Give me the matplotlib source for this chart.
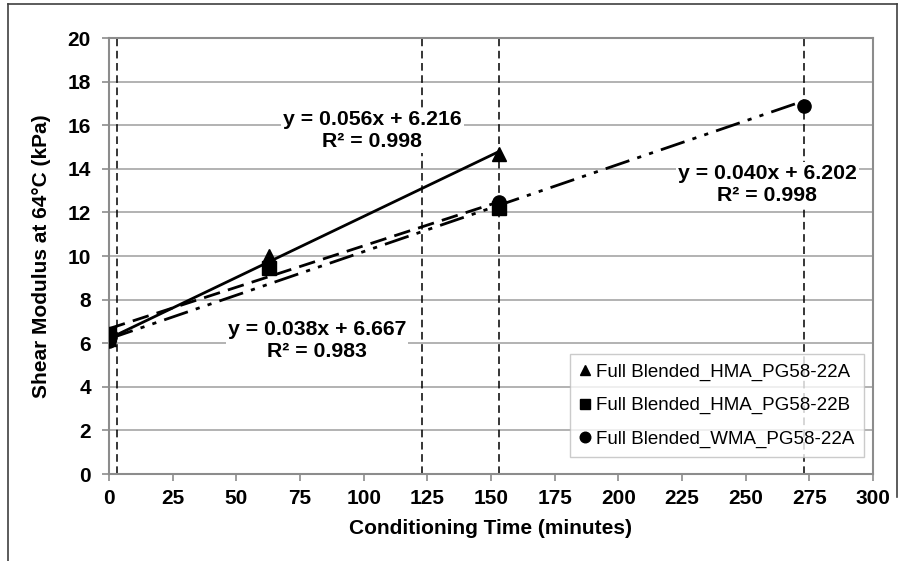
import numpy as np
import matplotlib
matplotlib.use('Agg')
import matplotlib.pyplot as plt
from matplotlib.lines import Line2D

# measured data
series_names = [
    'Full Blended_HMA_PG58-22A',
    'Full Blended_HMA_PG58-22B',
    'Full Blended_WMA_PG58-22A',
]
hma_a_time = [0, 63, 153]
hma_a_g = [6.2, 10.0, 14.7]
hma_b_time = [0, 63, 153]
hma_b_g = [6.4, 9.45, 12.2]
wma_a_time = [0, 153, 273]
wma_a_g = [6.1, 12.5, 16.9]

# trendline coefficients as printed on the chart
slopes = [0.056, 0.038, 0.040]
intercepts = [6.216, 6.667, 6.202]
r2_values = [0.998, 0.983, 0.998]
fit_ends = [153, 153, 273]

# dashed reference lines (minutes)
ref_times = [3, 123, 153, 273]

x_ticks = list(range(0, 301, 25))
y_ticks = list(range(0, 21, 2))

FONT = ['Liberation Sans', 'DejaVu Sans']
plt.rcParams['font.family'] = FONT

MARKERS = ['^', 's', 'o']
LINESTYLES = ['-', (0, (6, 3)), (0, (9, 3, 1.5, 3, 1.5, 3))]
# label anchor per trendline (data coords)
label_pos = [(103.4, 15.76), (81.7, 6.12), (258.5, 13.26)]

fig = plt.figure(figsize=(9.04, 5.61), dpi=100)
ax = fig.add_axes([109 / 904, 1 - 474 / 561, 764 / 904, 436 / 561])

# outer chart border
fig.add_artist(Line2D([8 / 904, 8 / 904], [0, 1 - 4 / 561], color='#404040', lw=1.2,
                      transform=fig.transFigure))
fig.add_artist(Line2D([8 / 904, 897 / 904], [1 - 4 / 561, 1 - 4 / 561], color='#404040', lw=1.2,
                      transform=fig.transFigure))
fig.add_artist(Line2D([897 / 904, 897 / 904], [1 - 4 / 561, 1 - 497 / 561], color='#404040', lw=1.2,
                      transform=fig.transFigure))

for y in y_ticks[1:]:
    ax.axhline(y, color='#a6a6a6', lw=1.2, zorder=0)

for t in ref_times:
    ax.axvline(t, color='black', lw=1.1, linestyle=(0, (5, 3)), zorder=1)

data = [(hma_a_time, hma_a_g), (hma_b_time, hma_b_g), (wma_a_time, wma_a_g)]
for i, (xs, ys) in enumerate(data):
    xl = np.array([0, fit_ends[i]])
    ax.plot(xl, slopes[i] * xl + intercepts[i], color='black', lw=2.0,
            linestyle=LINESTYLES[i], zorder=3)
    ax.plot(xs, ys, linestyle='none', marker=MARKERS[i], color='black',
            markersize=9.5, zorder=4, label=series_names[i])

for i, (px, py) in enumerate(label_pos):
    ax.text(px, py, f'y = {slopes[i]:.3f}x + {intercepts[i]:.3f}\nR² = {r2_values[i]:.3f}',
            ha='center', va='center', fontsize=15.3, fontweight='bold',
            linespacing=1.2, zorder=5,
            bbox=dict(boxstyle='square,pad=0.1', facecolor='white', edgecolor='none'))

ax.set_xlim(0, 300)
ax.set_ylim(0, 20)
ax.set_xticks(x_ticks)
ax.set_yticks(y_ticks)
for spine in ax.spines.values():
    spine.set_color('#8c8c8c')
    spine.set_linewidth(1.5)
ax.tick_params(axis='both', direction='out', length=5, width=1.2, color='#8c8c8c',
               labelsize=15, pad=6)
ax.tick_params(axis='y', pad=8)
for lab in ax.get_xticklabels() + ax.get_yticklabels():
    lab.set_fontweight('bold')

ax.set_xlabel('Conditioning Time (minutes)', fontsize=15, fontweight='bold', labelpad=8)
ax.set_ylabel('Shear Modulus at 64°C (kPa)', fontsize=15, fontweight='bold', labelpad=12)

leg = ax.legend(loc='lower right', bbox_to_anchor=(0.988, 0.039), borderaxespad=0,
                fontsize=13.5, frameon=True, fancybox=False, handlelength=0.6,
                handletextpad=0.3, labelspacing=0.85, borderpad=0.5, markerscale=0.8)
leg.get_frame().set_edgecolor('#bfbfbf')
leg.get_frame().set_linewidth(1.0)
leg.set_zorder(6)

fig.savefig('out.png', dpi=100)
